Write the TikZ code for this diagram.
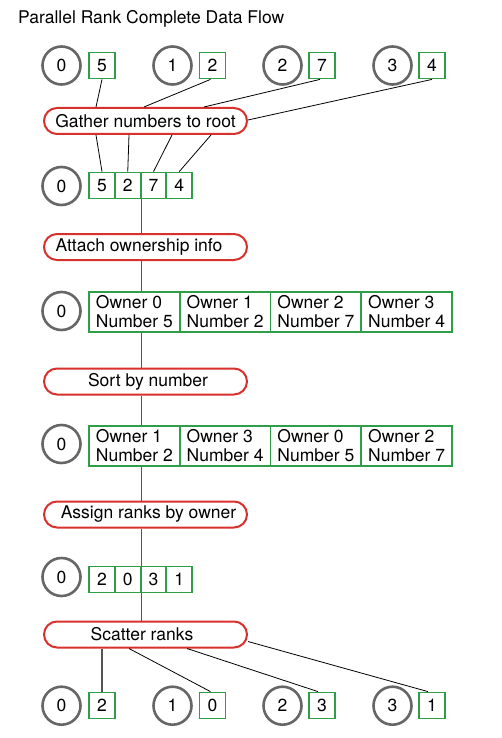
\documentclass[tikz,border=0pt]{standalone}
\usepackage{fontspec}
\setmainfont{TeX Gyre Heros}
\usetikzlibrary{calc}
\definecolor{cgray}{HTML}{666666}
\definecolor{cgreen}{HTML}{2E9E48}
\definecolor{cred}{HTML}{D8302C}
\definecolor{lgray}{HTML}{555555}
\begin{document}
\begin{tikzpicture}[x=1pt,y=-1pt, font=\fontsize{17.5}{19}\selectfont,
 rk/.style={circle,draw=cgray,line width=2.6pt,minimum size=38pt,inner sep=0},
 val/.style={draw=cgreen,line width=1.8pt,minimum size=26pt,inner sep=0},
 cell/.style={draw=cgreen,line width=1.8pt,minimum width=25.75pt,minimum height=26pt,inner sep=0},
 rec/.style={draw=cgreen,line width=1.8pt,minimum width=90.75pt,minimum height=40pt,inner sep=0,align=left},
 op/.style={draw=cred,line width=2pt,rounded corners=13pt,minimum width=203pt,minimum height=26pt,inner sep=0},
 ln/.style={black,line width=0.8pt},
 vl/.style={lgray,line width=1.2pt}]
\useasboundingbox[fill=white] (0,0) rectangle (502,738);

\node[anchor=base west,inner sep=0] (title) at (18,24) {Parallel Rank Complete Data Flow};

% top row
\node[rk] (t0) at (61.5,65.5) {0};
\node[rk] (t1) at (172.5,65.5) {1};
\node[rk] (t2) at (282.5,65.5) {2};
\node[rk] (t3) at (392.5,65.5) {3};
\node[val] (tv0) at (102,65.5) {5};
\node[val] (tv1) at (212.5,65.5) {2};
\node[val] (tv2) at (322,65.5) {7};
\node[val] (tv3) at (432,65.5) {4};

% operations
\node[op] (gather) at (145.5,121) {Gather numbers to root};
\node[op] (attach) at (145.5,247) {Attach ownership info\hspace*{13pt}};
\node[op] (sort) at (145.5,381.5) {\hspace*{5pt}Sort by number};
\node[op] (assign) at (145.5,514.5) {\hspace*{6pt}Assign ranks by owner};
\node[op] (scatter) at (145.5,634.5) {Scatter ranks\hspace*{7pt}};

% row 2
\node[rk] (r2) at (61.5,186) {0};
\node[cell] (g0) at (102,185.5) {5};
\node[cell] (g1) at (127.75,185.5) {2};
\node[cell] (g2) at (153.5,185.5) {7};
\node[cell] (g3) at (179.25,185.5) {4};

% row 3
\node[rk] (r3) at (61.5,311) {0};
\node[rec] (a0) at (134.4,312) {Owner 0\\Number 5};
\node[rec] (a1) at (225.1,312) {Owner 1\\Number 2};
\node[rec] (a2) at (315.9,312) {Owner 2\\Number 7};
\node[rec] (a3) at (406.6,312) {Owner 3\\Number 4};

% row 4
\node[rk] (r4) at (61.5,444) {0};
\node[rec] (s0) at (134.4,446) {Owner 1\\Number 2};
\node[rec] (s1) at (225.1,446) {Owner 3\\Number 4};
\node[rec] (s2) at (315.9,446) {Owner 0\\Number 5};
\node[rec] (s3) at (406.6,446) {Owner 2\\Number 7};

% row 5
\node[rk] (r5) at (61.5,577) {0};
\node[cell] (k0) at (102,579.5) {2};
\node[cell] (k1) at (127.75,579.5) {0};
\node[cell] (k2) at (153.5,579.5) {3};
\node[cell] (k3) at (179.25,579.5) {1};

% bottom row
\node[rk] (b0) at (61.5,705.7) {0};
\node[rk] (b1) at (172.5,705.7) {1};
\node[rk] (b2) at (282.5,705.7) {2};
\node[rk] (b3) at (392.5,705.7) {3};
\node[val] (bv0) at (102,705.5) {2};
\node[val] (bv1) at (212.5,705.5) {0};
\node[val] (bv2) at (322,705.5) {3};
\node[val] (bv3) at (432,705.5) {1};

% gather lines
\draw[ln] (tv0.south) -- ([xshift=53pt]gather.north west);
\draw[ln] ([xshift=-2pt]tv1.south) -- ([xshift=101pt]gather.north west);
\draw[ln] ([xshift=-2pt]tv2.south) -- ([xshift=161pt]gather.north west);
\draw[ln] (tv3.south) -- ([yshift=1pt]gather.east);
\draw[ln] ([xshift=53pt]gather.south west) -- (g0.north);
\draw[ln] ([xshift=86pt]gather.south west) -- (g1.north);
\draw[ln] ([xshift=129pt]gather.south west) -- (g2.north);
\draw[ln] ([xshift=168pt]gather.south west) -- (g3.north);

% main vertical flow
\draw[vl] (g1.south east) -- (attach.north -| g1.south east);
\draw[vl] (attach.south -| g1.south east) -- (a0.north -| g1.south east);
\draw[vl] (a0.south -| g1.south east) -- (sort.north -| g1.south east);
\draw[vl] (sort.south -| g1.south east) -- (s0.north -| g1.south east);
\draw[vl] (s0.south -| g1.south east) -- (assign.north -| g1.south east);
\draw[vl] (assign.south -| g1.south east) -- (k1.north east);
\draw[vl] (k1.south east) -- (scatter.north -| k1.south east);

% scatter lines
\draw[vl] (scatter.south -| bv0.north) -- (bv0.north);
\draw[ln] ([xshift=86pt]scatter.south west) -- ([xshift=-2pt]bv1.north);
\draw[ln] ([xshift=144pt]scatter.south west) -- ([xshift=-4pt]bv2.north);
\draw[ln] ([yshift=-7pt]scatter.east) -- ([xshift=-4pt]bv3.north);
\end{tikzpicture}
\end{document}
